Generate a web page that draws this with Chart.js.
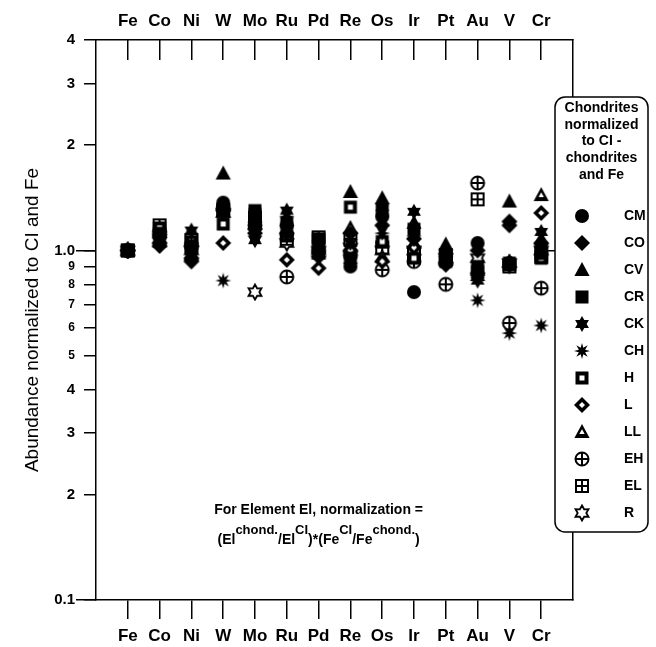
<!DOCTYPE html>
<html>
<head>
<meta charset="utf-8">
<script src="https://cdn.jsdelivr.net/npm/chart.js@4.4.1/dist/chart.umd.min.js"></script>
<style>
  html, body { margin: 0; padding: 0; background: #fff; }
  #wrap { width: 656px; height: 647px; position: relative; }
</style>
</head>
<body>
<div id="wrap"><canvas id="chart" width="656" height="647"></canvas></div>
<script>
// --- data ---
const ELEMENTS = ['Fe', 'Co', 'Ni', 'W', 'Mo', 'Ru', 'Pd', 'Re', 'Os', 'Ir', 'Pt', 'Au', 'V', 'Cr'];
const Y_TICKS = [0.1, 0.2, 0.3, 0.4, 0.5, 0.6, 0.7, 0.8, 0.9, 1, 2, 3, 4];
const Y_TICK_LABELS = ['0.1', '2', '3', '4', '5', '6', '7', '8', '9', '1.0', '2', '3', '4'];
const Y_MAJOR = [0.1, 1];
const GROUPS = ['CM', 'CO', 'CV', 'CR', 'CK', 'CH', 'H', 'L', 'LL', 'EH', 'EL', 'R'];

const CM = [1.00, 1.10, 1.00, 1.37, 1.22, 1.18, 1.00, 0.90, 1.25, 0.76, 0.95, 1.05, 0.92, 1.02];
const CO = [1.00, 1.03, 0.93, 1.30, 1.15, 1.12, 0.96, 1.12, 1.18, 1.08, 0.92, 1.00, 1.21, 1.05];
const CV = [1.00, 1.08, 0.97, 1.66, 1.25, 1.22, 1.02, 1.47, 1.41, 1.20, 1.04, 0.88, 1.38, 1.08];
const CR = [1.00, 1.12, 1.02, 1.30, 1.30, 1.20, 1.08, 0.95, 1.30, 1.15, 0.93, 0.90, 0.91, 0.98];
const CK = [1.00, 1.07, 1.14, 1.33, 1.07, 1.30, 1.04, 1.05, 1.33, 1.29, 0.98, 0.82, 0.90, 1.13];
const CH = [1.00, 1.05, 1.05, 0.82, 1.10, 1.25, 1.02, 0.92, 1.12, 1.10, 0.96, 0.72, 0.58, 0.61];
const H  = [1.00, 1.16, 1.06, 1.19, 1.27, 1.10, 1.07, 1.33, 1.06, 0.95, 0.94, 0.87, 0.92, 0.95];
const L  = [1.00, 1.09, 0.95, 1.05, 1.12, 0.94, 0.89, 1.00, 0.93, 1.02, 0.91, 0.86, 1.18, 1.28];
const LL = [1.00, 1.06, 0.98, 1.35, 1.20, 1.15, 0.98, 1.16, 0.96, 1.05, 1.02, 0.85, 0.93, 1.44];
const EH = [1.00, 1.13, 1.03, 1.32, 1.18, 0.84, 1.00, 0.97, 0.88, 0.93, 0.80, 1.56, 0.62, 0.78];
const EL = [1.00, 1.18, 1.07, 1.30, 1.24, 1.08, 1.09, 1.08, 1.02, 0.97, 0.97, 1.40, 0.90, 0.96];
const R  = [1.00, 1.08, 1.00, 1.28, 0.76, 1.05, 1.00, 1.02, 1.00, 1.00, 0.95, 0.95, 0.92, 1.00];

const SERIES = [CM, CO, CV, CR, CK, CH, H, L, LL, EH, EL, R];
const MARKER_KINDS = ['circle', 'diamond', 'triangle', 'square', 'hexStar', 'burst',
                      'squareHole', 'diamondHole', 'triangleHole', 'circleCross', 'squareCross', 'hexOpen'];

const FONT = '"Liberation Sans", Arial, Helvetica, sans-serif';
Chart.defaults.font.family = FONT;
Chart.defaults.color = '#000';

// --- marker glyphs as small canvases ---
function makeMarker(kind) {
    const s = 18, c = 9;
    const cv = document.createElement('canvas');
    cv.width = s; cv.height = s;
    const g = cv.getContext('2d');
    g.fillStyle = '#000';
    g.strokeStyle = '#000';
    g.lineJoin = 'miter';

    const poly = (pts) => { g.beginPath(); pts.forEach((p, i) => i ? g.lineTo(p[0], p[1]) : g.moveTo(p[0], p[1])); g.closePath(); };
    const diamond = (r) => poly([[c, c - r], [c + r, c], [c, c + r], [c - r, c]]);
    const triangle = (r) => poly([[c, c - r], [c + r * 0.95, c + r * 0.75], [c - r * 0.95, c + r * 0.75]]);
    const star = (n, ro, ri) => {
        const pts = [];
        for (let i = 0; i < n * 2; i++) {
            const a = -Math.PI / 2 + i * Math.PI / n;
            const r = i % 2 ? ri : ro;
            pts.push([c + r * Math.cos(a), c + r * Math.sin(a)]);
        }
        poly(pts);
    };

    switch (kind) {
        case 'circle':
            g.beginPath(); g.arc(c, c, 7, 0, Math.PI * 2); g.fill(); break;
        case 'diamond':
            diamond(8); g.fill(); break;
        case 'triangle':
            triangle(8); g.fill(); break;
        case 'square':
            g.fillRect(c - 6.5, c - 6.5, 13, 13); break;
        case 'hexStar':
            star(6, 8, 4.6); g.fill(); break;
        case 'burst':
            star(8, 8, 3.4); g.fill(); break;
        case 'squareHole':
            g.fillRect(c - 6.5, c - 6.5, 13, 13);
            g.fillStyle = '#fff'; g.fillRect(c - 2.5, c - 2.5, 5, 5); break;
        case 'diamondHole':
            diamond(8); g.fill();
            g.fillStyle = '#fff'; diamond(3); g.fill(); break;
        case 'triangleHole':
            triangle(8); g.fill();
            g.fillStyle = '#fff'; triangle(2.8); g.fill(); break;
        case 'circleCross':
            g.beginPath(); g.arc(c, c, 6.5, 0, Math.PI * 2);
            g.fillStyle = '#fff'; g.fill();
            g.lineWidth = 2; g.stroke();
            g.beginPath(); g.moveTo(c - 6.5, c); g.lineTo(c + 6.5, c); g.moveTo(c, c - 6.5); g.lineTo(c, c + 6.5); g.stroke();
            break;
        case 'squareCross':
            g.fillStyle = '#fff'; g.fillRect(c - 6, c - 6, 12, 12);
            g.lineWidth = 2; g.strokeRect(c - 6, c - 6, 12, 12);
            g.beginPath(); g.moveTo(c - 6, c); g.lineTo(c + 6, c); g.moveTo(c, c - 6); g.lineTo(c, c + 6); g.stroke();
            break;
        case 'hexOpen':
            star(6, 7.5, 4.3);
            g.fillStyle = '#fff'; g.fill();
            g.lineWidth = 1.8; g.stroke(); break;
    }
    return cv;
}

const markers = MARKER_KINDS.map(makeMarker);

const datasets = GROUPS.map((name, k) => ({
    label: name,
    data: ELEMENTS.map((_, i) => ({ x: i, y: SERIES[k][i] })),
    pointStyle: markers[k],
    pointRadius: 8,
    pointHoverRadius: 8,
    xAxisID: 'x',
    yAxisID: 'y'
}));

// --- legend box and normalization note ---
const legendBox = {
    id: 'legendBox',
    afterDraw(chart) {
        const ctx = chart.ctx;
        ctx.save();

        // formula note in the lower part of the plot
        const xs = chart.scales.x;
        const cx = xs.getPixelForValue(6);
        const y1 = chart.chartArea.top + 470;
        ctx.fillStyle = '#000';
        ctx.textBaseline = 'middle';
        ctx.textAlign = 'center';
        ctx.font = 'bold 14px ' + FONT;
        ctx.fillText('For Element El, normalization =', cx, y1);

        const parts = [['(El', 0], ['chond.', 1], ['/El', 0], ['CI', 1], [')*(Fe', 0], ['CI', 1], ['/Fe', 0], ['chond.', 1], [')', 0]];
        const fontOf = (sup) => sup ? 'bold 13px ' + FONT : 'bold 14px ' + FONT;
        let total = 0;
        parts.forEach(([t, sup]) => { ctx.font = fontOf(sup); total += ctx.measureText(t).width; });
        let x = cx - total / 2;
        const y2 = y1 + 30;
        ctx.textAlign = 'left';
        parts.forEach(([t, sup]) => {
            ctx.font = fontOf(sup);
            ctx.fillText(t, x, sup ? y2 - 10 : y2);
            x += ctx.measureText(t).width;
        });

        // legend frame
        const bx = 555, by = 97, bw = 93, bh = 435, rr = 10;
        ctx.beginPath();
        ctx.roundRect(bx, by, bw, bh, rr);
        ctx.fillStyle = '#fff';
        ctx.fill();
        ctx.lineWidth = 1.5;
        ctx.strokeStyle = '#000';
        ctx.stroke();

        ctx.fillStyle = '#000';
        ctx.textAlign = 'center';
        ctx.font = 'bold 14px ' + FONT;
        ['Chondrites', 'normalized', 'to CI -', 'chondrites', 'and Fe'].forEach((t, i) => {
            ctx.fillText(t, bx + bw / 2, by + 11 + i * 16.7);
        });

        ctx.textAlign = 'left';
        GROUPS.forEach((name, k) => {
            const yy = 216 + k * 27;
            const m = markers[k];
            ctx.drawImage(m, 582 - m.width / 2, yy - m.height / 2);
            ctx.fillText(name, 624, yy);
        });
        ctx.restore();
    }
};

const xTicksCommon = {
    autoSkip: false,
    maxRotation: 0,
    minRotation: 0,
    color: '#000',
    font: { size: 17, weight: 'bold' }
};

new Chart(document.getElementById('chart'), {
    type: 'scatter',
    data: { datasets },
    options: {
        responsive: false,
        animation: false,
        devicePixelRatio: 1,
        layout: { padding: { left: 0, right: 83, top: 0, bottom: 0 } },
        plugins: {
            legend: { display: false },
            tooltip: { enabled: false }
        },
        scales: {
            x: {
                type: 'linear',
                position: 'bottom',
                min: -1,
                max: 14,
                afterBuildTicks: (s) => { s.ticks = ELEMENTS.map((_, i) => ({ value: i })); },
                afterFit: (s) => { s.height = 47; },
                ticks: { ...xTicksCommon, padding: 7, callback: (v) => ELEMENTS[v] ?? '' },
                grid: { display: true, drawOnChartArea: false, tickLength: 19, color: '#000', lineWidth: 1.5 },
                border: { display: true, color: '#000', width: 1.5 }
            },
            xTop: {
                type: 'linear',
                position: 'top',
                min: -1,
                max: 14,
                afterBuildTicks: (s) => { s.ticks = ELEMENTS.map((_, i) => ({ value: i })); },
                afterFit: (s) => { s.height = 40; },
                ticks: { ...xTicksCommon, padding: 28, callback: (v) => ELEMENTS[v] ?? '' },
                grid: { display: true, drawOnChartArea: false, tickLength: -20, color: '#000', lineWidth: 1.5 },
                border: { display: true, color: '#000', width: 1.5 }
            },
            y: {
                type: 'logarithmic',
                position: 'left',
                weight: 1,
                min: 0.1,
                max: 4,
                afterBuildTicks: (s) => { s.ticks = Y_TICKS.map(v => ({ value: v })); },
                afterFit: (s) => { s.width = 96; },
                ticks: {
                    padding: 9,
                    color: '#000',
                    autoSkip: false,
                    callback: (v) => Y_TICK_LABELS[Y_TICKS.indexOf(v)] ?? '',
                    font: (c) => {
                        const v = c.tick ? c.tick.value : 1;
                        return { size: (v >= 0.5 && v < 1) ? 12 : 15, weight: 'bold' };
                    }
                },
                grid: { display: true, drawOnChartArea: false, tickLength: 12, color: '#000', lineWidth: 1.5 },
                border: { display: true, color: '#000', width: 1.5 },
                title: {
                    display: true,
                    text: 'Abundance normalized to CI and Fe',
                    color: '#000',
                    font: { size: 19 },
                    padding: { top: 21, bottom: 0 }
                }
            },
            // longer ticks at 0.1 and 1.0
            yMajor: {
                type: 'logarithmic',
                position: 'left',
                weight: 0,
                min: 0.1,
                max: 4,
                afterBuildTicks: (s) => { s.ticks = Y_MAJOR.map(v => ({ value: v })); },
                afterFit: (s) => { s.width = 0; },
                ticks: { display: false },
                grid: { display: true, drawOnChartArea: false, tickLength: 20, color: '#000', lineWidth: 1.5 },
                border: { display: false }
            },
            yRight: {
                type: 'logarithmic',
                position: 'right',
                min: 0.1,
                max: 4,
                afterBuildTicks: (s) => { s.ticks = [{ value: 1 }]; },
                afterFit: (s) => { s.width = 0; },
                ticks: { display: false },
                grid: { display: true, drawOnChartArea: false, tickLength: -28, color: '#000', lineWidth: 1.5 },
                border: { display: true, color: '#000', width: 1.5 }
            }
        }
    },
    plugins: [legendBox]
});
</script>
</body>
</html>
